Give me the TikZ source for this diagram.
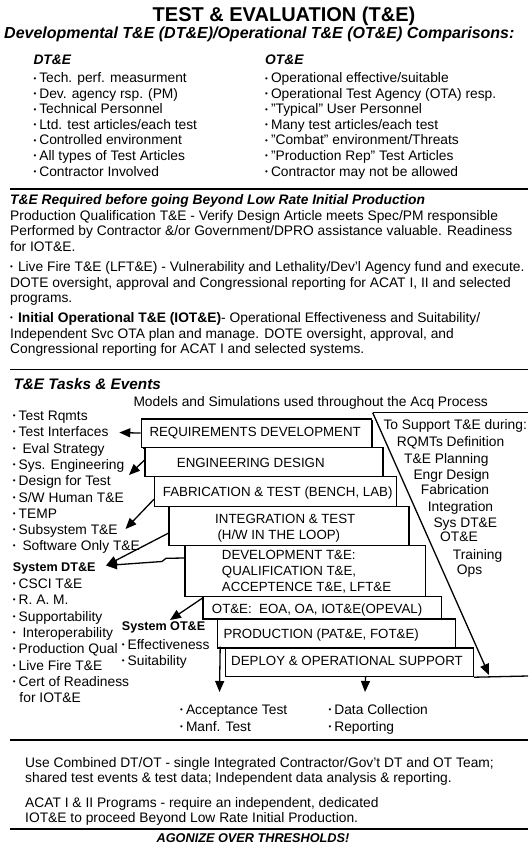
\documentclass[tikz,border=0pt]{standalone}
\usepackage{fontspec}
\setmainfont{Liberation Sans}
\usetikzlibrary{arrows.meta,shadows}

% small raised bullet used in all lists
\newcommand\bu{\raisebox{0.14em}{\fontsize{8}{8}\selectfont\textbullet}\hspace{3pt}}
% straight double quote
\newcommand\sq{\char"22\relax}

\begin{document}
\begin{tikzpicture}[x=1pt,y=-1pt,
  txt/.style={inner sep=0pt, anchor=base west, font=\fontsize{13.8}{16}\selectfont},
  btxt/.style={txt, font=\fontsize{13.8}{16}\selectfont\bfseries\itshape},
  head/.style={txt, font=\fontsize{15.3}{18}\selectfont\bfseries\itshape},
  sysl/.style={txt, font=\fontsize{12.6}{15}\selectfont\bfseries},
  boxtxt/.style={inner sep=0pt, anchor=base west, font=\fontsize{13.3}{16}\selectfont},
  stair/.style={draw, line width=1.2pt, fill=white, anchor=north west, inner sep=0pt},
  rule/.style={line width=1.8pt},
  arr/.style={line width=1.3pt, -{Triangle[length=11pt,width=9pt]}},
  plain/.style={line width=1.3pt}
]
\useasboundingbox (0,0) rectangle (528,845);
\fill[white] (0,0) rectangle (528,845);

% ---------- heading ----------
\node[inner sep=0pt, anchor=base, font=\fontsize{20}{24}\selectfont\bfseries] (title) at (284,22) {TEST \& EVALUATION (T\&E)};
\node[inner sep=0pt, anchor=base west, font=\fontsize{16}{19}\selectfont\bfseries\itshape] (sub) at (4,38.5) {Developmental T\&E (DT\&E)/Operational T\&E (OT\&E) Comparisons:};

% ---------- DT&E / OT&E comparison ----------
\node[btxt] (dthead) at (33.3,65) {DT\&E};
\node[btxt] (othead) at (265,65) {OT\&E};
\foreach \yy/\tx [count=\i] in {83/{Tech. perf. measurment},
    98.5/{Dev. agency rsp. (PM)},
    114/{Technical Personnel},
    129.5/{Ltd. test articles/each test},
    145/{Controlled environment},
    160.5/{All types of Test Articles},
    176/{Contractor Involved}}
  \node[txt] (dt\i) at (33.3,\yy) {\bu\tx};
\foreach \yy/\tx [count=\i] in {83/{Operational effective/suitable},
    98.5/{Operational Test Agency (OTA) resp.},
    114/{\sq Typical\sq{} User Personnel},
    129.5/{Many test articles/each test},
    145/{\sq Combat\sq{} environment/Threats},
    160.5/{\sq Production Rep\sq{} Test Articles},
    176/{Contractor may not be allowed}}
  \node[txt] (ot\i) at (265,\yy) {\bu\tx};

\draw[rule] (10,189) coordinate (r1a) -- (528,189) coordinate (r1b);

% ---------- T&E before BLRIP ----------
\node[btxt] (req0) at (10,204.5) {T\&E Required before going Beyond Low Rate Initial Production};
\node[txt] (pq1) at (10,220) {Production Qualification T\&E - Verify Design Article meets Spec/PM responsible};
\node[txt] (pq2) at (10,235.5) {Performed by Contractor \&/or Government/DPRO assistance valuable. Readiness};
\node[txt] (pq3) at (10,251) {for IOT\&E.};
\node[txt] (lf1) at (10,271.5) {\bu\hspace{2pt}Live Fire T\&E (LFT\&E) - Vulnerability and Lethality/Dev'l Agency fund and execute.};
\node[txt] (lf2) at (10,287) {DOTE oversight, approval and Congressional reporting for ACAT I, II and selected};
\node[txt] (lf3) at (10,302.5) {programs.};
\node[txt] (io1) at (10,322.5) {\bu\hspace{2pt}\textbf{Initial Operational T\&E (IOT\&E)}- Operational Effectiveness and Suitability/};
\node[txt] (io2) at (10,338) {Independent Svc OTA plan and manage. DOTE oversight, approval, and};
\node[txt] (io3) at (10,353.5) {Congressional reporting for ACAT I and selected systems.};

\draw[rule] (10,369.5) coordinate (r2a) -- (528,369.5) coordinate (r2b);

% ---------- tasks and events ----------
\node[head] (tasks) at (13.3,389) {T\&E Tasks \& Events};
\node[txt] (models) at (133.3,406) {Models and Simulations used throughout the Acq Process};

\foreach \yy/\tx [count=\i] in {420.5/{Test Rqmts},
    436.8/{Test Interfaces},
    453.1/{\ Eval Strategy},
    469.4/{Sys. Engineering},
    485.7/{Design for Test},
    502/{S/W Human T\&E},
    518.3/{TEMP},
    534.6/{Subsystem T\&E},
    550.9/{\ Software Only T\&E}}
  \node[txt] (lt\i) at (12.7,\yy) {\bu\tx};
\node[sysl] (sysdt) at (12.7,571.5) {System DT\&E};
\foreach \yy/\tx [count=\i] in {588.5/{CSCI T\&E},
    604.5/{R. A. M.},
    621/{Supportability},
    637.3/{\ Interoperability},
    653.5/{Production Qual},
    670/{Live Fire T\&E},
    686.2/{Cert of Readiness}}
  \node[txt] (ls\i) at (12.7,\yy) {\bu\tx};
\node[txt] (ls8) at (19.3,702.5) {for IOT\&E};

\node[sysl] (sysot) at (121.7,630) {System OT\&E};
\node[txt] (eff) at (121.7,649.5) {\bu Effectiveness};
\node[txt] (suit) at (121.7,665.5) {\bu Suitability};

% support list along the slanted line
\foreach \xx/\yy/\tx [count=\i] in {383.3/429.5/{To Support T\&E during:},
    396.7/446.8/{RQMTs Definition},
    404/463.5/{T\&E Planning},
    413.3/479.5/{Engr Design},
    420.7/494.5/{Fabrication},
    427.7/511.2/{Integration},
    433.3/527.2/{Sys DT\&E},
    440/541.8/{OT\&E},
    452.7/559.5/{Training},
    456.7/574.5/{Ops}}
  \node[txt] (sp\i) at (\xx,\yy) {\tx};

% staircase of phases
\node[stair, minimum width=230pt, minimum height=28.4pt,
      drop shadow={shadow xshift=1.5pt, shadow yshift=-1.5pt, fill=black, opacity=1}] (req) at (140.7,418.3) {};
\node[stair, minimum width=238pt, minimum height=29.3pt] (eng) at (144.3,446.7) {};
\node[stair, minimum width=241.7pt, minimum height=30pt] (fab) at (154,476) {};
\node[stair, minimum width=240pt, minimum height=39pt] (integ) at (168.3,506) {};
\node[stair, minimum width=240.7pt, minimum height=50.7pt] (dev) at (184.3,545) {};
\node[stair, minimum width=238.4pt, minimum height=22.6pt] (ote) at (202.3,595.7) {};
\node[stair, minimum width=238.3pt, minimum height=29pt] (prod) at (216.7,618.3) {};
\node[stair, minimum width=248pt, minimum height=28.7pt] (deploy) at (225,647.3) {};

\node[boxtxt] (reqT) at (149.3,436.5) {REQUIREMENTS DEVELOPMENT};
\node[boxtxt] (engT) at (176.7,467) {ENGINEERING DESIGN};
\node[boxtxt] (fabT) at (162.7,496.5) {FABRICATION \& TEST (BENCH, LAB)};
\node[boxtxt] (intT1) at (215,523) {INTEGRATION \& TEST};
\node[boxtxt] (intT2) at (217.3,539.8) {(H/W IN THE LOOP)};
\node[boxtxt] (devT1) at (221.7,559.8) {DEVELOPMENT T\&E:};
\node[boxtxt] (devT2) at (221.7,575.5) {QUALIFICATION T\&E,};
\node[boxtxt] (devT3) at (221.7,591.5) {ACCEPTENCE T\&E, LFT\&E};
\node[boxtxt] (oteT) at (211.7,613.8) {OT\&E:\ \ EOA, OA, IOT\&E(OPEVAL)};
\node[boxtxt] (prodT) at (223.3,638) {PRODUCTION (PAT\&E, FOT\&E)};
\node[boxtxt] (depT) at (231,665.5) {DEPLOY \& OPERATIONAL SUPPORT};

% arrow end points
\coordinate (tTI)  at (119.3,432.5);
\coordinate (tSE)  at (129,475);
\coordinate (tSub) at (125.5,529);
\coordinate (tSDT) at (106,565.5);
\coordinate (tSOT) at (170,620);
\coordinate (tAcc) at (219.5,692);
\coordinate (tDat) at (365,692);
\coordinate (mtop) at (372.7,412.7);
\coordinate (mtopR) at (528,412.7);
\coordinate (mbotR) at (528,676);
\coordinate (tDiag) at (489,675);
\coordinate (dvk1) at (166,558.3);
\coordinate (dvk2) at (162,561.5);

\draw[arr] (req.west) -- (tTI);
\draw[arr] ([yshift=17pt]eng.south west) -- (tSE);
\draw[arr] ([yshift=8pt]fab.south west) -- (tSub);
\draw[arr] ([yshift=13pt]integ.south west) -- (tSDT);
\draw[arr] ([yshift=-13pt]dev.north west) -- (dvk1) -- (dvk2) -- (tSDT);
\draw[arr] ([yshift=-2.5pt]ote.north west) -- (tSOT);
\draw[arr] ([xshift=3.5pt,yshift=2pt]prod.south west) -- (tAcc);
\draw[arr] ([xshift=16pt]deploy.south) -- (tDat);

% slanted bracket of the support list
\draw[plain] (mtopR) -- (mtop);
\draw[arr] (mtop) -- (tDiag);
\draw[plain] (deploy.south east) -- (mbotR);

% outcomes under the staircase
\node[txt] (acc) at (180,714.5) {\bu Acceptance Test};
\node[txt] (manf) at (180,731.8) {\bu Manf. Test};
\node[txt] (dat) at (328.3,714.5) {\bu Data Collection};
\node[txt] (rep) at (328.3,731.8) {\bu Reporting};

\draw[rule] (10,740) coordinate (r3a) -- (528,740) coordinate (r3b);

% ---------- closing notes ----------
\node[txt] (cb1) at (25,767.8) {Use Combined DT/OT - single Integrated Contractor/Gov't DT and OT Team;};
\node[txt] (cb2) at (25,782.2) {shared test events \& test data; Independent data analysis \& reporting.};
\node[txt] (ac1) at (25,807.8) {ACAT I \& II Programs - require an independent, dedicated};
\node[txt] (ac2) at (25,822.8) {IOT\&E to proceed Beyond Low Rate Initial Production.};

\draw[rule] (10,829) coordinate (r4a) -- (528,829) coordinate (r4b);
\node[inner sep=0pt, anchor=base, font=\fontsize{12.7}{15}\selectfont\bfseries\itshape] (agon) at (253,842.8) {AGONIZE OVER THRESHOLDS!};
\end{tikzpicture}
\end{document}
